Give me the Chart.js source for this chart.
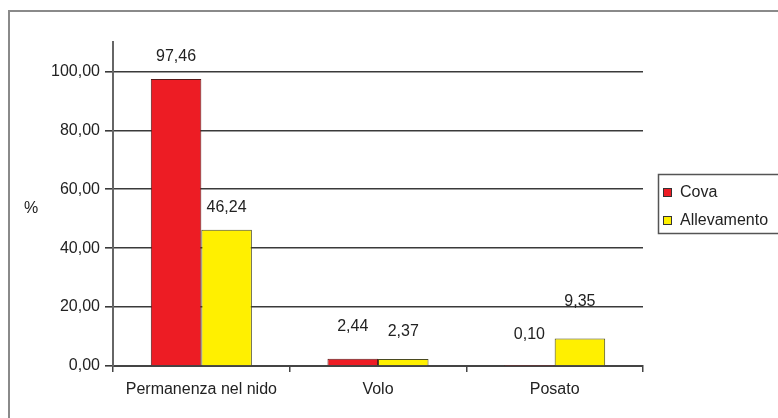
<!DOCTYPE html>
<html>
<head>
<meta charset="utf-8">
<script src="https://cdn.jsdelivr.net/npm/chart.js@4"></script>
<style>
    html, body { margin: 0; padding: 0; background: #fff; }
    #wrap { width: 778px; height: 418px; }
</style>
</head>
<body>
<div id="wrap"><canvas id="chart" width="778" height="418"></canvas></div>
<script>
// Data
const categories = ['Permanenza nel nido', 'Volo', 'Posato'];
const seriesNames = ['Cova', 'Allevamento'];
const covaValues = [97.46, 2.44, 0.10];
const allevamentoValues = [46.24, 2.37, 9.35];
const yTicks = [0, 20, 40, 60, 80, 100];

// Styling
const FONT = 'Liberation Sans, Arial, sans-serif';
const TEXT = '#222';
const seriesColors = ['#ED1C24', '#FFF000'];
// how far each value label sits above its bar top (px)
const labelLift = [[22, 32, 31], [22, 27, 37]];

const fmt = v => v.toFixed(2).replace('.', ',');

const extrasPlugin = {
    id: 'extras',
    beforeDraw(chart) {
        const ctx = chart.ctx;
        ctx.save();
        ctx.fillStyle = '#fff';
        ctx.fillRect(0, 0, chart.width, chart.height);
        ctx.strokeStyle = '#8a8a8a';
        ctx.lineWidth = 2;
        ctx.strokeRect(9, 11, 820, 440);
        ctx.restore();
    },
    afterDatasetsDraw(chart) {
        const ctx = chart.ctx;
        ctx.save();
        ctx.font = '16px ' + FONT;
        ctx.fillStyle = TEXT;
        ctx.textAlign = 'center';
        ctx.textBaseline = 'middle';
        chart.data.datasets.forEach((ds, d) => {
            chart.getDatasetMeta(d).data.forEach((bar, i) => {
                ctx.fillText(fmt(ds.data[i]), bar.x, bar.y - labelLift[d][i]);
            });
        });
        ctx.restore();
    },
    afterDraw(chart) {
        const ctx = chart.ctx;
        ctx.save();
        // y axis title, horizontal
        ctx.font = '16px ' + FONT;
        ctx.fillStyle = TEXT;
        ctx.textAlign = 'center';
        ctx.textBaseline = 'middle';
        ctx.fillText('%', 31, 209);

        // legend box
        ctx.strokeStyle = '#555';
        ctx.lineWidth = 1.5;
        ctx.fillStyle = '#fff';
        ctx.fillRect(658, 174, 125, 59);
        ctx.strokeRect(658.5, 174.5, 125, 59);
        ctx.textAlign = 'left';
        chart.data.datasets.forEach((ds, d) => {
            const y = 192 + d * 28;
            ctx.fillStyle = ds.backgroundColor;
            ctx.fillRect(663, y - 4, 9, 9);
            ctx.strokeStyle = '#333';
            ctx.lineWidth = 1;
            ctx.strokeRect(663.5, y - 3.5, 8, 8);
            ctx.fillStyle = TEXT;
            ctx.fillText(ds.label, 680, y + 1);
        });
        ctx.restore();
    }
};

new Chart(document.getElementById('chart'), {
    type: 'bar',
    data: {
        labels: categories,
        datasets: [
            {
                label: seriesNames[0],
                data: covaValues,
                backgroundColor: seriesColors[0],
                borderColor: '#5a1a1a',
                borderWidth: 1,
                categoryPercentage: 0.572,
                barPercentage: 1.0
            },
            {
                label: seriesNames[1],
                data: allevamentoValues,
                backgroundColor: seriesColors[1],
                borderColor: '#4a4a20',
                borderWidth: 1,
                categoryPercentage: 0.572,
                barPercentage: 1.0
            }
        ]
    },
    options: {
        responsive: false,
        animation: false,
        layout: { padding: { left: 0, right: 135, top: 42, bottom: 0 } },
        plugins: {
            legend: { display: false },
            tooltip: { enabled: false }
        },
        scales: {
            x: {
                afterFit: s => { s.height = 52; },
                grid: {
                    offset: true,
                    drawOnChartArea: false,
                    drawTicks: true,
                    tickLength: 6,
                    color: '#444',
                    lineWidth: 1.5
                },
                border: { color: '#444', width: 2 },
                ticks: {
                    color: TEXT,
                    padding: 8,
                    maxRotation: 0,
                    font: { family: FONT, size: 16 }
                }
            },
            y: {
                min: 0,
                max: 110,
                afterFit: s => { s.width = 113; },
                afterBuildTicks: axis => { axis.ticks = yTicks.map(v => ({ value: v })); },
                grid: {
                    color: '#3a3a3a',
                    lineWidth: 1.6,
                    drawTicks: true,
                    tickLength: 8
                },
                border: { color: '#666', width: 2 },
                ticks: {
                    color: TEXT,
                    padding: 5,
                    font: { family: FONT, size: 16 },
                    callback: v => fmt(v)
                }
            }
        }
    },
    plugins: [extrasPlugin]
});
</script>
</body>
</html>
